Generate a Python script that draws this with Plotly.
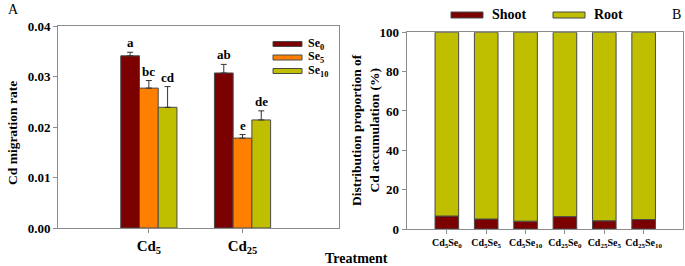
import plotly.graph_objects as go

# ---------------- data ----------------
cd_groups = ["Cd<sub>5</sub>", "Cd<sub>25</sub>"]
se_levels = ["Se<sub>0</sub>", "Se<sub>5</sub>", "Se<sub>10</sub>"]
rate_se0 = [0.0341, 0.0307]
rate_se5 = [0.0277, 0.0178]
rate_se10 = [0.0239, 0.0214]
err_se0 = [0.0007, 0.0017]
err_se5 = [0.0015, 0.0007]
err_se10 = [0.0041, 0.0018]
letters_se0 = ["a", "ab"]
letters_se5 = ["bc", "e"]
letters_se10 = ["cd", "de"]

treatments = ["Cd<sub>5</sub>Se<sub>0</sub>", "Cd<sub>5</sub>Se<sub>5</sub>", "Cd<sub>5</sub>Se<sub>10</sub>",
              "Cd<sub>25</sub>Se<sub>0</sub>", "Cd<sub>25</sub>Se<sub>5</sub>", "Cd<sub>25</sub>Se<sub>10</sub>"]
shoot_pct = [6.6, 5.1, 4.0, 6.3, 4.2, 4.8]
root_pct = [100 - s for s in shoot_pct]

y_ticks_a = [0.00, 0.01, 0.02, 0.03, 0.04]
y_ticks_b = [0, 20, 40, 60, 80, 100]

# ---------------- style ----------------
FONT = "Liberation Serif"
C_SE0 = "#7B0000"
C_SE5 = "#FF8000"
C_SE10 = "#BFBF00"
OUTLINE = "#4A4A4A"
AXC = "#8C8C8C"
colors_a = [C_SE0, C_SE5, C_SE10]
BARGAP = 0.4

fig = go.Figure()

series = [(rate_se0, err_se0, letters_se0), (rate_se5, err_se5, letters_se5), (rate_se10, err_se10, letters_se10)]
gx = list(range(len(cd_groups)))
annotations = []
nser = len(series)
bw = (1 - BARGAP) / nser
for k, (vals, errs, lets) in enumerate(series):
    fig.add_trace(go.Bar(
        x=gx, y=vals, name=se_levels[k], xaxis="x", yaxis="y",
        marker=dict(color=colors_a[k], line=dict(color=OUTLINE, width=1)),
        error_y=dict(type="data", array=errs, arrayminus=[0] * len(errs), symmetric=False,
                     color="#333333", thickness=1, width=3),
        offsetgroup=str(k), showlegend=False,
    ))
    for i, (v, e, t) in enumerate(zip(vals, errs, lets)):
        annotations.append(dict(
            x=i + (k - (nser - 1) / 2) * bw, y=v + e, xref="x", yref="y",
            text="<b>%s</b>" % t, showarrow=False, yanchor="bottom", yshift=0,
            font=dict(family=FONT, size=13, color="black"),
        ))

tx = list(range(len(treatments)))
fig.add_trace(go.Bar(x=tx, y=shoot_pct, name="Shoot", xaxis="x2", yaxis="y2",
                     marker=dict(color=C_SE0, line=dict(color=OUTLINE, width=1)),
                     offsetgroup="s", showlegend=False))
fig.add_trace(go.Bar(x=tx, y=root_pct, base=shoot_pct, name="Root", xaxis="x2", yaxis="y2",
                     marker=dict(color=C_SE10, line=dict(color=OUTLINE, width=1)),
                     offsetgroup="s", showlegend=False))

W, H = 685, 266
def px(x):
    return x / W
def py(y):
    return 1 - y / H

axis_common = dict(showline=True, linecolor=AXC, linewidth=1, mirror=True, showgrid=False,
                   zeroline=False, ticks="outside", ticklen=4, tickcolor=AXC, automargin=False,
                   tickfont=dict(family=FONT, size=13, color="black", weight="bold"))

fig.update_layout(
    width=W, height=H, margin=dict(l=0, r=0, t=0, b=0, pad=0, autoexpand=False),
    paper_bgcolor="white", plot_bgcolor="white",
    barmode="group", bargap=BARGAP, bargroupgap=0,
    xaxis=dict(domain=[px(58), px(339)], range=[-0.97, 2.03], tickvals=gx, ticktext=cd_groups,
               anchor="y", **{**axis_common, "tickfont": dict(family=FONT, size=15, color="black", weight="bold")}),
    yaxis=dict(domain=[py(228), py(26)], range=[0, 0.04], tickvals=y_ticks_a,
               tickformat=".2f", anchor="x", **axis_common),
    xaxis2=dict(domain=[px(406.7), px(683)], range=[-1.02, 6.0], tickvals=tx, ticktext=treatments,
                anchor="y2", tickangle=0,
                **{**axis_common, "tickfont": dict(family=FONT, size=10, color="black", weight="bold")}),
    yaxis2=dict(domain=[py(229), py(32.3)], range=[0, 100], tickvals=y_ticks_b,
                anchor="x2", **axis_common),
    showlegend=False,
)

# axis titles and panel labels
annotations += [
    dict(x=px(12), y=py(133), xref="paper", yref="paper", text="<b>Cd migration rate</b>",
         textangle=-90, showarrow=False, xanchor="center", yanchor="middle",
         font=dict(family=FONT, size=13.5, color="black")),
    dict(x=px(365), y=py(130), xref="paper", yref="paper",
         text="<b>Distribution proportion of<br>Cd accumulation (%)</b>",
         textangle=-90, showarrow=False, xanchor="center", yanchor="middle",
         font=dict(family=FONT, size=13.5, color="black")),
    dict(x=px(356), y=py(258), xref="paper", yref="paper", text="<b>Treatment</b>",
         showarrow=False, xanchor="center", yanchor="middle",
         font=dict(family=FONT, size=14, color="black")),
    dict(x=px(13), y=py(9), xref="paper", yref="paper", text="A",
         showarrow=False, xanchor="center", yanchor="middle",
         font=dict(family=FONT, size=14, color="black")),
    dict(x=px(676), y=py(15), xref="paper", yref="paper", text="B",
         showarrow=False, xanchor="center", yanchor="middle",
         font=dict(family=FONT, size=14, color="black")),
]

# custom legends (wide swatches)
shapes = []
leg_a_rows = [44, 57.5, 71]
for k, yc in enumerate(leg_a_rows):
    shapes.append(dict(type="rect", xref="paper", yref="paper", x0=px(273), x1=px(302),
                       y0=py(yc + 2.5), y1=py(yc - 2.5), fillcolor=colors_a[k],
                       line=dict(color=OUTLINE, width=1)))
    annotations.append(dict(x=px(306), y=py(yc), xref="paper", yref="paper", xanchor="left",
                            yanchor="middle", text="<b>%s</b>" % se_levels[k], showarrow=False,
                            font=dict(family=FONT, size=12, color="black")))
leg_b = [("Shoot", C_SE0, 451, 483, 490), ("Root", C_SE10, 553, 585, 592)]
for name, col, x0, x1, xt in leg_b:
    shapes.append(dict(type="rect", xref="paper", yref="paper", x0=px(x0), x1=px(x1),
                       y0=py(18), y1=py(12), fillcolor=col, line=dict(color=OUTLINE, width=1)))
    annotations.append(dict(x=px(xt), y=py(15), xref="paper", yref="paper", xanchor="left",
                            yanchor="middle", text="<b>%s</b>" % name, showarrow=False,
                            font=dict(family=FONT, size=14, color="black")))

fig.update_layout(annotations=annotations, shapes=shapes)
fig.write_html("out.html", config={"displayModeBar": False},
               post_script="document.body.style.margin='0';document.body.style.overflow='hidden';")
